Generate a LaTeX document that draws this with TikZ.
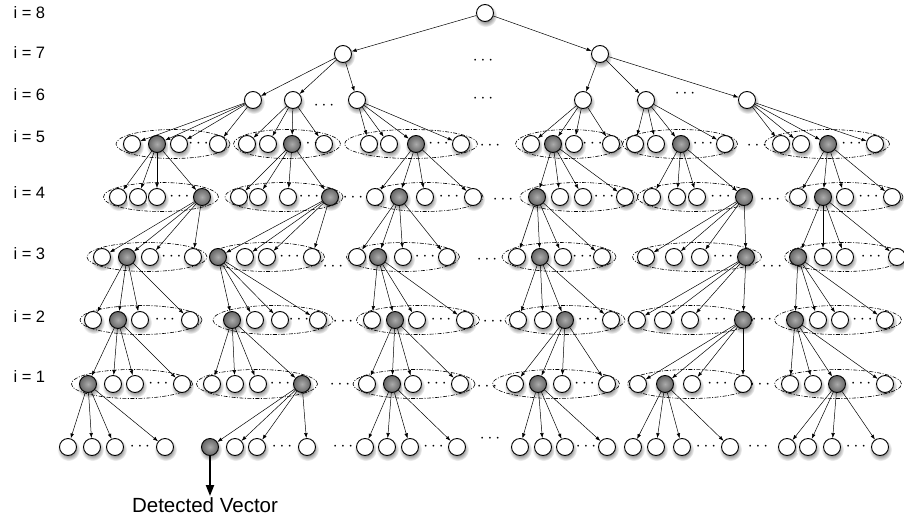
\documentclass[tikz,border=0pt]{standalone}
\usepackage{fontspec}
\setmainfont{Liberation Sans}
\usetikzlibrary{shapes.geometric, arrows.meta}
\pgfdeclarelayer{shade}
\pgfdeclarelayer{back}
\pgfsetlayers{shade,back,main}

\tikzstyle{vec} = [circle, draw, line width=0.9pt, fill=white, minimum size=17pt, inner sep=0pt]
\tikzstyle{hit} = [vec, shading=radial, inner color=black!33, outer color=black!60]
\tikzstyle{drop} = [shading=radial, inner color=black!85, outer color=white]
\tikzstyle{grp} = [ellipse, draw, line width=0.6pt, dash pattern=on 4pt off 1.5pt on 1pt off 1.5pt,
  minimum height=29pt, inner sep=0pt]
\tikzstyle{lbl} = [anchor=west, font=\fontsize{16.5}{19}\selectfont]
\tikzstyle{gap} = [inner sep=0pt, font=\fontsize{16}{18}\selectfont]
\tikzstyle{link} = [-{Latex[length=5pt, width=3.6pt]}, line width=0.5pt]

\begin{document}
\begin{tikzpicture}[x=1pt, y=-1pt]
\useasboundingbox (0,0) rectangle (904,519);

%level labels
\foreach \i/\y in {8/13, 7/53, 6/95, 5/137, 4/193, 3/254, 2/317, 1/377}
  \node[lbl] (l\i) at (10,\y) {i = \i};

%top of the tree
\node[vec] (r) at (485,13) {};
\node[vec] (t7-1) at (343,54) {};
\node[vec] (t7-2) at (600,54) {};
\foreach \g/\x in {1/253, 2/293, 3/357, 4/583, 5/646, 6/747}
  \node[vec] (t6-\g) at (\x,100) {};
\node[gap] at (483,61) {$\cdots$};
\node[gap] at (483,99) {$\cdots$};
\node[gap] at (324,106) {$\cdots$};
\node[gap] at (685,94) {$\cdots$};

%groups: group/x1/x2/x3/x4/gray/ellipse centre/ellipse width
\foreach \g/\xa/\xb/\xc/\xd/\k/\ec/\ew in {1/132/157/179/218/2/173/114, 2/247/268/292/324/3/287/107,
    3/369/389/416/461/3/411/133, 4/531/553/574/611/2/569/107, 5/635/656/681/725/3/680/115,
    6/781/801/828/875/3/827/125}{
  \begin{pgfonlayer}{back}\node[grp, minimum width=\ew pt] (e5-\g) at (\ec,144) {};\end{pgfonlayer}
  \foreach \x [count=\j] in {\xa,\xb,\xc,\xd}{
    \ifnum\j=\k\relax \node[hit, alias=h5-\g] (n5-\g-\j) at (\x,144) {};
    \else \node[vec] (n5-\g-\j) at (\x,144) {}; \fi}
  \node[gap] at ({(\xc+\xd)/2},144) {$\cdots$};
}
\foreach \g/\xa/\xb/\xc/\xd/\k/\ec/\ew in {1/118/138/157/202/4/161/115, 2/239/258/288/330/4/284/118,
    3/375/399/425/473/2/425/116, 4/537/560/583/625/1/579/118, 5/652/677/697/744/4/695/115,
    6/798/823/845/892/2/844/118}{
  \begin{pgfonlayer}{back}\node[grp, minimum width=\ew pt] (e4-\g) at (\ec,197) {};\end{pgfonlayer}
  \foreach \x [count=\j] in {\xa,\xb,\xc,\xd}{
    \ifnum\j=\k\relax \node[hit, alias=h4-\g] (n4-\g-\j) at (\x,197) {};
    \else \node[vec] (n4-\g-\j) at (\x,197) {}; \fi}
  \node[gap] at ({(\xc+\xd)/2},197) {$\cdots$};
}
\foreach \g/\xa/\xb/\xc/\xd/\k/\ec/\ew in {1/102/127/150/193/2/147/120, 2/218/245/267/312/1/267/115,
    3/357/378/403/447/2/403/113, 4/517/540/563/602/2/559/114, 5/646/674/700/746/4/697/129,
    6/798/823/845/897/1/844/119}{
  \begin{pgfonlayer}{back}\node[grp, minimum width=\ew pt] (e3-\g) at (\ec,257) {};\end{pgfonlayer}
  \foreach \x [count=\j] in {\xa,\xb,\xc,\xd}{
    \ifnum\j=\k\relax \node[hit, alias=h3-\g] (n3-\g-\j) at (\x,257) {};
    \else \node[vec] (n3-\g-\j) at (\x,257) {}; \fi}
  \node[gap] at ({(\xc+\xd)/2},257) {$\cdots$};
}
\foreach \g/\xa/\xb/\xc/\xd/\k/\ec/\ew in {1/93/118/140/190/2/141/122, 2/232/255/280/318/1/273/120,
    3/372/395/417/465/2/418/123, 4/518/543/565/611/3/565/120, 5/637/663/690/743/4/690/125,
    6/795/818/840/885/1/838/127}{
  \begin{pgfonlayer}{back}\node[grp, minimum width=\ew pt] (e2-\g) at (\ec,320) {};\end{pgfonlayer}
  \foreach \x [count=\j] in {\xa,\xb,\xc,\xd}{
    \ifnum\j=\k\relax \node[hit, alias=h2-\g] (n2-\g-\j) at (\x,320) {};
    \else \node[vec] (n2-\g-\j) at (\x,320) {}; \fi}
  \node[gap] at ({(\xc+\xd)/2},320) {$\cdots$};
}
\foreach \g/\xa/\xb/\xc/\xd/\k/\ec/\ew in {1/88/113/135/182/1/132/121, 2/212/235/258/302/4/257/121,
    3/367/392/413/460/2/414/122, 4/515/538/562/607/2/556/127, 5/638/665/692/743/2/690/125,
    6/790/813/837/885/3/838/127}{
  \begin{pgfonlayer}{back}\node[grp, minimum width=\ew pt] (e1-\g) at (\ec,384) {};\end{pgfonlayer}
  \foreach \x [count=\j] in {\xa,\xb,\xc,\xd}{
    \ifnum\j=\k\relax \node[hit, alias=h1-\g] (n1-\g-\j) at (\x,384) {};
    \else \node[vec] (n1-\g-\j) at (\x,384) {}; \fi}
  \node[gap] at ({(\xc+\xd)/2},384) {$\cdots$};
}
%bottom row, no ellipses
\foreach \g/\xa/\xb/\xc/\xd/\k in {1/68/92/115/165/0, 2/210/235/257/307/1, 3/365/387/410/457/0,
    4/520/543/565/607/0, 5/633/656/682/730/0, 6/787/808/832/880/0}{
  \foreach \x [count=\j] in {\xa,\xb,\xc,\xd}{
    \ifnum\j=\k\relax \node[hit] (n0-\g-\j) at (\x,447) {};
    \else \node[vec] (n0-\g-\j) at (\x,447) {}; \fi}
  \node[gap] at ({(\xc+\xd)/2},447) {$\cdots$};
}

%soft shadows under the vectors
\begin{pgfonlayer}{shade}
\foreach \n in {r, t7-1, t7-2, t6-1, t6-2, t6-3, t6-4, t6-5, t6-6}
  \shade[drop] ([shift={(0.6,2.6)}]\n.center) circle [radius=11.5pt];
\foreach \L in {0,...,5}
  \foreach \g in {1,...,6}
    \foreach \j in {1,...,4}
      \shade[drop] ([shift={(0.6,2.6)}]n\L-\g-\j.center) circle [radius=11.5pt];
\end{pgfonlayer}

%dots between groups
\foreach \x/\y in {490/146, 757/146, 353/198, 503/200, 770/200, 333/267, 487/260, 772/267,
    343/322, 493/322, 762/320, 340/385, 487/387, 760/385, 343/447, 490/439, 758/447}
  \node[gap] at (\x,\y) {$\cdots$};

\node[anchor=north, inner sep=1pt, font=\fontsize{20.5}{24}\selectfont] (dv) at (205,496) {Detected Vector};

%arrows
\draw[link] (r) -- (t7-1);
\draw[link] (r) -- (t7-2);
\foreach \g in {1,2,3} \draw[link] (t7-1) -- (t6-\g);
\foreach \g in {4,5,6} \draw[link] (t7-2) -- (t6-\g);
\foreach \g in {1,...,6}
  \foreach \j in {1,...,4}{
    \draw[link] (t6-\g) -- (n5-\g-\j);
    \draw[link] (h5-\g) -- (n4-\g-\j);
    \draw[link] (h4-\g) -- (n3-\g-\j);
    \draw[link] (h3-\g) -- (n2-\g-\j);
    \draw[link] (h2-\g) -- (n1-\g-\j);
    \draw[link] (h1-\g) -- (n0-\g-\j);
  }
\draw[-{Triangle[length=11pt, width=8pt]}, line width=2pt] (n0-2-1) -- (n0-2-1 |- dv.north);

\end{tikzpicture}
\end{document}
